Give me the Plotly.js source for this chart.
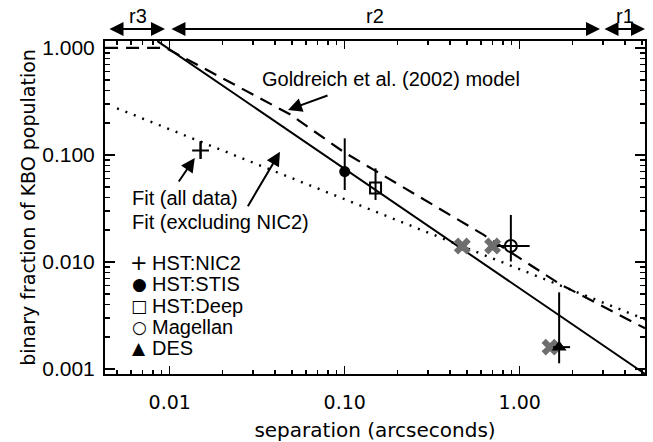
<!DOCTYPE html>
<html>
<head>
<meta charset="utf-8">
<script src="https://cdn.plot.ly/plotly-3.0.1.min.js"></script>
<style>html,body{margin:0;padding:0;background:#fff;}#chart{width:653px;height:442px;}</style>
</head>
<body>
<div id="chart"></div>
<script>
// ---- data ----
const nic2X = [0.015], nic2Y = [0.11], nic2Up = [0.025], nic2Dn = [0.018];
const stisX = [0.10], stisY = [0.070], stisUp = [0.073], stisDn = [0.023];
const deepX = [0.15], deepY = [0.049], deepUp = [0.026], deepDn = [0.011];
const magX = [0.89], magY = [0.0141], magUp = [0.0134], magDn = [0.0040], magXp = [0.25], magXm = [0.15];
const desX = [1.68], desY = [0.0016], desUp = [0.0036], desDn = [0.00047], desXp = [0.26], desXm = [0.13];
const greyX = [0.47, 0.70, 1.49], greyY = [0.0141, 0.0141, 0.0016];

const fitExclX = [0.0085, 5.2], fitExclY = [1.16, 0.0009];
const fitAllX = [0.0050, 5.2], fitAllY = [0.273, 0.00291];
const modelX = [0.00427, 0.0095, 0.0486, 0.10, 0.15, 0.62, 1.70, 5.2];
const modelY = [1.0, 1.0, 0.24, 0.105, 0.071, 0.018, 0.0062, 0.0024];

const xTickVals = [0.01, 0.1, 1], xTickText = ['0.01', '0.10', '1.00'];
const yTickVals = [0.001, 0.01, 0.1, 1], yTickText = ['0.001', '0.010', '0.100', '1.000'];
const legendNames = ['HST:NIC2', 'HST:STIS', 'HST:Deep', 'Magellan', 'DES'];
const legendGlyphs = ['+', '\u25CF', '\u25A1', '\u25CB', '\u25B2'];
const regionNames = ['r3', 'r2', 'r1'];

// minor tick positions (2..9 per decade)
function minorTicks(lo, hi) {
  const out = [];
  for (let e = lo; e <= hi; e++) for (let m = 2; m <= 9; m++) out.push(m * Math.pow(10, e));
  return out;
}

const helv = 'Liberation Sans, Arial, Helvetica, sans-serif';
const geo = 'DejaVu Sans, sans-serif';

function eb(up, dn) {
  return {type: 'data', symmetric: false, array: up, arrayminus: dn, color: 'black', thickness: 2, width: 0};
}

const traces = [
  {x: fitAllX, y: fitAllY, mode: 'lines', line: {color: 'black', width: 2.4, dash: '2px,7px'}, name: 'Fit (all data)', showlegend: false},
  {x: modelX, y: modelY, mode: 'lines', line: {color: 'black', width: 2.2, dash: '13px,8px'}, name: 'Goldreich et al. (2002) model', showlegend: false},
  {x: fitExclX, y: fitExclY, mode: 'lines', line: {color: 'black', width: 2}, name: 'Fit (excluding NIC2)', showlegend: false},
  {x: greyX, y: greyY, mode: 'markers', marker: {symbol: 'x', size: 15, color: '#6e6e6e', line: {width: 0}}, showlegend: false},
  {x: nic2X, y: nic2Y, mode: 'markers', name: 'HST:NIC2', error_y: eb(nic2Up, nic2Dn),
   marker: {symbol: 'cross-thin', size: 12, color: 'black', line: {width: 2, color: 'black'}}, showlegend: false},
  {x: stisX, y: stisY, mode: 'markers', name: 'HST:STIS', error_y: eb(stisUp, stisDn),
   marker: {symbol: 'circle', size: 11, color: 'black'}, showlegend: false},
  {x: deepX, y: deepY, mode: 'markers', name: 'HST:Deep', error_y: eb(deepUp, deepDn),
   marker: {symbol: 'square-open', size: 11, color: 'black', line: {width: 2, color: 'black'}}, showlegend: false},
  {x: magX, y: magY, mode: 'markers', name: 'Magellan', error_y: eb(magUp, magDn), error_x: eb(magXp, magXm),
   marker: {symbol: 'circle-open', size: 12, color: 'black', line: {width: 2, color: 'black'}}, showlegend: false},
  {x: desX, y: desY, mode: 'markers', name: 'DES', error_y: eb(desUp, desDn), error_x: eb(desXp, desXm),
   marker: {symbol: 'triangle-up', size: 13, color: 'black'}, showlegend: false}
];

const annFont = {family: helv, size: 20, color: 'black'};
const annotations = [];
// text labels
annotations.push({xref: 'paper', yref: 'paper', x: 0.53, y: 0.885, text: 'Goldreich et al. (2002) model', showarrow: false, font: annFont, xanchor: 'center', yanchor: 'middle'});
annotations.push({xref: 'paper', yref: 'paper', x: 0.046, y: 0.529, text: 'Fit (all data)', showarrow: false, font: annFont, xanchor: 'left', yanchor: 'middle'});
annotations.push({xref: 'paper', yref: 'paper', x: 0.046, y: 0.457, text: 'Fit (excluding NIC2)', showarrow: false, font: annFont, xanchor: 'left', yanchor: 'middle'});
// pointer arrows (head at line, tail offset in px)
function ptr(lx, ly, ax, ay) {
  return {xref: 'x', yref: 'y', x: lx, y: ly, ax: ax, ay: ay, text: '', showarrow: true,
          arrowhead: 2, arrowsize: 1.4, arrowwidth: 2, arrowcolor: 'black', standoff: 0};
}
annotations.push(ptr(-1.324, -0.579, 41, -15));
annotations.push(ptr(-1.857, -1.028, -17, 25));
annotations.push(ptr(-1.370, -0.970, -33, 56));
// region arrows above the plot
function region(x0, x1) {
  return {xref: 'x', yref: 'paper', x: x1, y: 1.036, axref: 'x', ax: x0, ayref: 'pixel', ay: 0, text: '',
          showarrow: true, arrowside: 'end+start', arrowhead: 2, startarrowhead: 2, arrowsize: 1.4, startarrowsize: 1.4,
          arrowwidth: 2, arrowcolor: 'black', standoff: 0, startstandoff: 0};
}
annotations.push(region(-2.353, -2.027));
annotations.push(region(-1.999, 0.459));
annotations.push(region(0.476, 0.716));
const regionPos = [-2.181, -0.827, 0.601];
regionNames.forEach((t, i) => annotations.push({xref: 'x', yref: 'paper', x: regionPos[i], y: 1.075, text: t, showarrow: false, font: annFont, xanchor: 'center', yanchor: 'middle'}));
// legend (text rows)
const legRows = [0.3333, 0.2703, 0.2042, 0.1411, 0.0781];
legendNames.forEach((n, i) => {
  annotations.push({xref: 'paper', yref: 'paper', x: 0.063, y: legRows[i], text: legendGlyphs[i], showarrow: false,
                    font: {family: 'DejaVu Sans, sans-serif', size: i === 0 ? 21 : 17, color: 'black'}, xanchor: 'center', yanchor: 'middle'});
  annotations.push({xref: 'paper', yref: 'paper', x: 0.083, y: legRows[i], text: n, showarrow: false,
                    font: annFont, xanchor: 'left', yanchor: 'middle'});
});

const layout = {
  width: 653, height: 442,
  margin: {l: 105, r: 8, t: 41, b: 68, pad: 0},
  paper_bgcolor: 'white', plot_bgcolor: 'white',
  showlegend: false,
  xaxis: {
    type: 'log', range: [-2.37, 0.716], autorange: false,
    tickmode: 'array', tickvals: xTickVals, ticktext: xTickText,
    ticks: 'inside', ticklen: 8, tickwidth: 1.5, tickcolor: 'black',
    showline: true, linewidth: 2, linecolor: 'black', mirror: 'allticks',
    showgrid: false, zeroline: false,
    tickfont: {family: geo, size: 19, color: 'black'},
    ticklabelstandoff: 10,
    minor: {ticks: 'inside', ticklen: 4, tickwidth: 1.5, tickcolor: 'black', tickmode: 'array', tickvals: minorTicks(-3, 0), showgrid: false},
    title: {text: 'separation (arcseconds)', font: {family: geo, size: 20, color: 'black'}, standoff: 14}
  },
  yaxis: {
    type: 'log', range: [-3.047, 0.065], autorange: false,
    tickmode: 'array', tickvals: yTickVals, ticktext: yTickText,
    ticks: 'inside', ticklen: 10, tickwidth: 1.5, tickcolor: 'black',
    showline: true, linewidth: 2, linecolor: 'black', mirror: 'allticks',
    showgrid: false, zeroline: false,
    tickfont: {family: helv, size: 21, color: 'black'},
    ticklabelstandoff: 4,
    minor: {ticks: 'inside', ticklen: 5, tickwidth: 1.5, tickcolor: 'black', tickmode: 'array', tickvals: minorTicks(-4, 0), showgrid: false},
    title: {text: 'binary fraction of KBO population', font: {family: geo, size: 19, color: 'black'}, standoff: 2}
  },
  annotations: annotations
};

Plotly.newPlot('chart', traces, layout, {staticPlot: true, displayModeBar: false});
</script>
</body>
</html>
